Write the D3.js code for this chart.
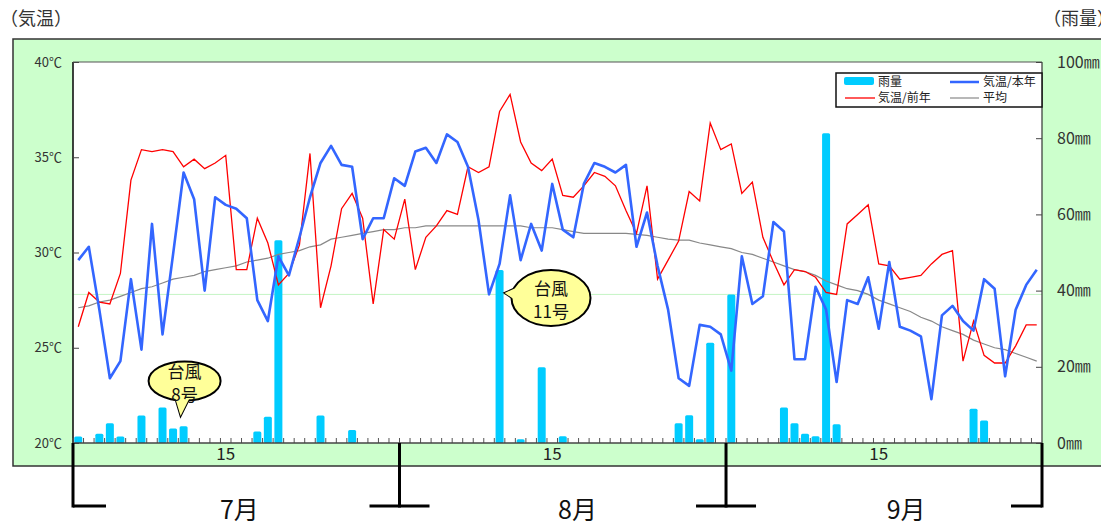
<!DOCTYPE html>
<html>
<head>
<meta charset="utf-8">
<script src="https://cdn.jsdelivr.net/npm/d3@7"></script>
<style>
  body { margin: 0; background: #fff; }
  svg { display: block; font-family: "Noto Sans CJK JP", "Noto Sans", sans-serif; }
</style>
</head>
<body>
<div id="chart"></div>
<script>
// Month categories and day counts (July - September)
const months = ['7月', '8月', '9月'];
const monthDays = [31, 31, 30];
const dayLabels = ['15'];

// Rain (mm), day 1 .. 92
const rain = [
  1.7, 0, 2.4, 5.2, 1.7, 0, 7.2, 0, 9.3, 3.8, 4.4, 0, 0, 0, 0, 0, 0, 3.0, 6.9, 53.2, 0, 0, 0, 7.2, 0, 0, 3.4, 0, 0, 0, 0,
  0, 0, 0, 0, 0, 0, 0, 0, 0, 45.4, 0, 1.0, 0, 19.9, 0, 1.8, 0, 0, 0, 0, 0, 0, 0, 0, 0, 0, 5.2, 7.3, 1.0, 26.3, 0,
  39.0, 0, 0, 0, 0, 9.3, 5.2, 2.4, 1.8, 81.3, 4.9, 0, 0, 0, 0, 0, 0, 0, 0, 0, 0, 0, 0, 9.0, 5.9, 0, 0, 0, 0, 0
];

// Temperature this year
const tempThis = [
  29.6, 30.3, 27.0, 23.4, 24.3, 28.6, 24.9, 31.5, 25.7, 29.9, 34.2, 32.8, 28.0, 32.9, 32.5, 32.3, 31.8, 27.5, 26.4, 29.8,
  28.8, 30.8, 32.9, 34.7, 35.6, 34.6, 34.5, 30.7, 31.8, 31.8, 33.9,
  33.5, 35.3, 35.5, 34.7, 36.2, 35.8, 34.5, 31.7, 27.8, 29.4, 33.0, 29.6, 31.5, 30.1, 33.6, 31.2, 30.8, 33.6, 34.7,
  34.5, 34.2, 34.6, 30.3, 32.1, 29.3, 27.0, 23.4, 23.0, 26.2, 26.1, 25.7,
  23.8, 29.8, 27.3, 27.7, 31.6, 31.1, 24.4, 24.4, 28.2, 27.0, 23.2, 27.5, 27.3, 28.7, 26.0, 29.5, 26.1, 25.9,
  25.6, 22.3, 26.7, 27.2, 26.4, 25.9, 28.6, 28.1, 23.5, 27.0, 28.3, 29.1
];

// Temperature last year
const tempLast = [
  26.1, 27.9, 27.4, 27.3, 28.9, 33.8, 35.4, 35.3, 35.4, 35.3, 34.5, 34.9, 34.4, 34.7, 35.1, 29.1, 29.1, 31.8, 30.5, 28.3,
  28.9, 30.4, 35.2, 27.1, 29.3, 32.3, 33.1, 31.8, 27.3, 31.2, 30.7,
  32.8, 29.1, 30.8, 31.4, 32.2, 32.0, 34.5, 34.2, 34.5, 37.4, 38.3, 35.8, 34.7, 34.3, 34.9, 33.0, 32.9, 33.5, 34.2,
  34.0, 33.5, 32.2, 31.0, 33.5, 28.6, 29.6, 30.6, 33.2, 32.7, 36.8, 35.4,
  35.7, 33.1, 33.7, 30.8, 29.5, 28.3, 29.1, 29.0, 28.7, 27.9, 27.8, 31.5, 32.0, 32.5, 29.4, 29.3, 28.6, 28.7,
  28.8, 29.4, 29.9, 30.1, 24.3, 26.4, 24.6, 24.2, 24.2, 25.1, 26.2, 26.2
];

// Normal (average) temperature
const tempAvg = [
  27.1, 27.2, 27.4, 27.5, 27.7, 27.9, 28.1, 28.2, 28.4, 28.6, 28.7, 28.8, 29.0, 29.1, 29.2, 29.3, 29.5, 29.6, 29.7, 29.9,
  30.0, 30.1, 30.3, 30.4, 30.7, 30.8, 30.9, 31.0, 31.1, 31.2, 31.2,
  31.3, 31.3, 31.4, 31.4, 31.4, 31.4, 31.4, 31.4, 31.4, 31.4, 31.4, 31.4, 31.3, 31.3, 31.3, 31.2, 31.1, 31.0, 31.0,
  31.0, 31.0, 31.0, 30.95, 30.9, 30.8, 30.7, 30.65, 30.65, 30.5, 30.4, 30.3,
  30.2, 30.0, 29.9, 29.7, 29.5, 29.3, 29.1, 29.0, 28.8, 28.5, 28.3, 28.1, 28.0, 27.8, 27.5, 27.3, 27.1, 26.9,
  26.6, 26.4, 26.1, 25.9, 25.7, 25.4, 25.2, 25.0, 24.9, 24.7, 24.5, 24.3
];

const refTemp = 27.8;
const tempTicks = [20, 25, 30, 35, 40];
const rainTicks = [0, 20, 40, 60, 80, 100];

// Typhoon notes
const typhoons = [
  { day: 11, lines: ['台風', '8号'] },
  { day: 41, lines: ['台風', '11号'] }
];

// build the list of dates
const dates = [];
months.forEach((m, mi) => {
  d3.range(1, monthDays[mi] + 1).forEach((d) => dates.push({ month: mi, day: d, key: `${mi + 7}/${d}` }));
});

const width = 1101;
const height = 526;
const plotL = 73, plotR = 1042, plotT = 62, plotB = 443;

const svg = d3.select('#chart').append('svg')
  .attr('width', width)
  .attr('height', height);

// outer green panel
svg.append('rect')
  .attr('x', 13).attr('y', 39).attr('width', 1100).attr('height', 427)
  .attr('fill', '#ccffcc').attr('stroke', '#333').attr('stroke-width', 1.5);

svg.append('rect')
  .attr('x', plotL).attr('y', plotT).attr('width', plotR - plotL).attr('height', plotB - plotT)
  .attr('fill', '#fff');

const x = d3.scaleBand().domain(dates.map((d) => d.key)).range([plotL, plotR]);
const yT = d3.scaleLinear().domain([20, 40]).range([plotB, plotT]);
const yR = d3.scaleLinear().domain([0, 100]).range([plotB, plotT]);
const cx = (i) => x(dates[i].key) + x.bandwidth() / 2;

// pale reference line
svg.append('line')
  .attr('x1', plotL).attr('x2', plotR)
  .attr('y1', yT(refTemp)).attr('y2', yT(refTemp))
  .attr('stroke', '#c4f4c4').attr('stroke-width', 1);

// rain bars
svg.append('g')
  .selectAll('rect')
  .data(rain.map((v, i) => ({ v, i })).filter((d) => d.v > 0))
  .enter()
  .append('rect')
  .attr('x', (d) => cx(d.i) - 4)
  .attr('y', (d) => yR(d.v))
  .attr('width', 8)
  .attr('height', (d) => plotB - yR(d.v))
  .attr('rx', 1.5)
  .attr('fill', '#00ccff');

const line = d3.line().x((d, i) => cx(i)).y((d) => yT(d));

svg.append('path').datum(tempAvg).attr('d', line)
  .attr('fill', 'none').attr('stroke', '#888').attr('stroke-width', 1.2);
svg.append('path').datum(tempLast).attr('d', line)
  .attr('fill', 'none').attr('stroke', '#ff0000').attr('stroke-width', 1.3);
svg.append('path').datum(tempThis).attr('d', line)
  .attr('fill', 'none').attr('stroke', '#3366ff').attr('stroke-width', 2.6)
  .attr('stroke-linejoin', 'round');

// plot frame
svg.append('line').attr('x1', plotL).attr('x2', plotR).attr('y1', plotT).attr('y2', plotT)
  .attr('stroke', '#555').attr('stroke-width', 1.2);
svg.append('line').attr('x1', plotR).attr('x2', plotR).attr('y1', plotT).attr('y2', plotB)
  .attr('stroke', '#333').attr('stroke-width', 1.2);
svg.append('line').attr('x1', plotL).attr('x2', plotL).attr('y1', plotT).attr('y2', plotB)
  .attr('stroke', '#111').attr('stroke-width', 1.6);

// left axis
const axL = svg.append('g')
  .attr('transform', `translate(${plotL},0)`)
  .call(d3.axisLeft(yT).tickValues(tempTicks).tickSize(-6).tickPadding(11).tickFormat((d) => `${d}℃`));
axL.select('.domain').remove();
axL.selectAll('line').attr('stroke', '#444');
axL.selectAll('text').attr('font-size', 13).attr('fill', '#333')
  .attr('font-family', '"Noto Sans CJK JP", sans-serif');

// right axis
const axR = svg.append('g')
  .attr('transform', `translate(${plotR},0)`)
  .call(d3.axisRight(yR).tickValues(rainTicks).tickSize(-6).tickPadding(15).tickFormat((d) => `${d}㎜`));
axR.select('.domain').remove();
axR.selectAll('line').attr('stroke', '#444');
axR.selectAll('text').attr('font-size', 16).attr('fill', '#333')
  .attr('font-family', '"Noto Sans CJK JP", sans-serif');

// day ticks along the bottom
svg.append('g')
  .selectAll('line')
  .data(dates)
  .enter()
  .append('line')
  .attr('x1', (d) => x(d.key)).attr('x2', (d) => x(d.key))
  .attr('y1', plotB).attr('y2', plotB - 5)
  .attr('stroke', '#555').attr('stroke-width', 1);
svg.append('line').attr('x1', plotL).attr('x2', plotR).attr('y1', plotB).attr('y2', plotB)
  .attr('stroke', '#444').attr('stroke-width', 1.5);

// "15" labels
svg.append('g')
  .selectAll('text')
  .data(months.map((m, mi) => ({ key: `${mi + 7}/${dayLabels[0]}`, label: dayLabels[0] })))
  .enter()
  .append('text')
  .attr('x', (d) => x(d.key) + x.bandwidth() / 2)
  .attr('y', 460)
  .attr('text-anchor', 'middle')
  .attr('font-size', 17)
  .attr('fill', '#222')
  .text((d) => d.label);

// month brackets
const monthStart = months.map((m, mi) => x(`${mi + 7}/1`));
const bounds = monthStart.concat([plotR]);
const brY = 506;
const bracket = svg.append('g').attr('stroke', '#000').attr('stroke-width', 3).attr('fill', 'none');
bounds.forEach((bx, bi) => {
  let x1 = bx - 30, x2 = bx + 30;
  if (bi === 0) { x1 = bx; x2 = bx + 33; }
  if (bi === bounds.length - 1) { x1 = bx - 31; x2 = bx; }
  bracket.append('line').attr('x1', bx).attr('x2', bx).attr('y1', plotB).attr('y2', brY + 1.5);
  bracket.append('line').attr('x1', x1).attr('x2', x2).attr('y1', brY).attr('y2', brY);
});
// month names sit a little right of each month's middle
const monthLabelDay = [15.8, 16.9, 17.1];
svg.append('g')
  .selectAll('text')
  .data(months)
  .enter()
  .append('text')
  .attr('x', (d, i) => monthStart[i] + monthLabelDay[i] * x.bandwidth())
  .attr('y', 519)
  .attr('text-anchor', 'middle')
  .attr('font-size', 25)
  .attr('fill', '#111')
  .text((d) => d);

// axis titles
svg.append('text').attr('x', 0).attr('y', 25).attr('font-size', 18).attr('fill', '#333').text('（気温）');
svg.append('text').attr('x', 1043).attr('y', 25).attr('font-size', 18).attr('fill', '#333').text('（雨量）');

// legend
const lg = svg.append('g').attr('transform', 'translate(836,73)');
lg.append('rect').attr('width', 206).attr('height', 34).attr('fill', '#fff')
  .attr('stroke', '#111').attr('stroke-width', 1.5);
lg.append('rect').attr('x', 8).attr('y', 4).attr('width', 30).attr('height', 8).attr('rx', 2).attr('fill', '#00ccff');
lg.append('line').attr('x1', 114).attr('x2', 143).attr('y1', 9).attr('y2', 9).attr('stroke', '#3366ff').attr('stroke-width', 2.5);
lg.append('line').attr('x1', 9).attr('x2', 39).attr('y1', 25).attr('y2', 25).attr('stroke', '#ff0000').attr('stroke-width', 1.3);
lg.append('line').attr('x1', 114).attr('x2', 143).attr('y1', 25).attr('y2', 25).attr('stroke', '#888').attr('stroke-width', 1.2);
const lgText = [['雨量', 42, 12.5], ['気温/本年', 147, 12.5], ['気温/前年', 42, 29], ['平均', 147, 29]];
lg.selectAll('text.lt').data(lgText).enter().append('text')
  .attr('class', 'lt')
  .attr('x', (d) => d[1]).attr('y', (d) => d[2])
  .attr('font-size', 12).attr('fill', '#222')
  .text((d) => d[0]);

// typhoon callouts
const bubble = (g, cxp, cyp, rx, ry, tail) => {
  const tailPath = `M${tail[0][0]},${tail[0][1]}L${tail[1][0]},${tail[1][1]}L${tail[2][0]},${tail[2][1]}Z`;
  g.append('path').attr('d', tailPath)
    .attr('fill', '#ffff99').attr('stroke', '#000').attr('stroke-width', 2);
  g.append('ellipse').attr('cx', cxp).attr('cy', cyp).attr('rx', rx).attr('ry', ry)
    .attr('fill', '#ffff99').attr('stroke', '#000').attr('stroke-width', 2);
  g.append('path').attr('d', tailPath)
    .attr('fill', '#ffff99').attr('stroke', 'none');
};

const bubbleText = (g, tx, ty, lines) => {
  const t = g.append('text')
    .attr('text-anchor', 'middle').attr('font-size', 17).attr('fill', '#111');
  lines.forEach((l, i) => {
    t.append('tspan').attr('x', tx).attr('y', ty + i * 23).text(l);
  });
};

const t8 = typhoons[0];
const g8 = svg.append('g');
const c8x = cx(t8.day - 1) + 1;
bubble(g8, c8x, 381, 36, 19.5, [[c8x - 10, 396], [c8x - 4, 416], [c8x + 6, 396]]);
bubbleText(g8, c8x, 378, t8.lines);

const t11 = typhoons[1];
const g11 = svg.append('g');
const tipX = cx(t11.day - 1) + 5;
bubble(g11, 551, 298, 39.5, 28, [[518, 287], [tipX, 293], [518, 302]]);
bubbleText(g11, 551, 295, t11.lines);
</script>
</body>
</html>
